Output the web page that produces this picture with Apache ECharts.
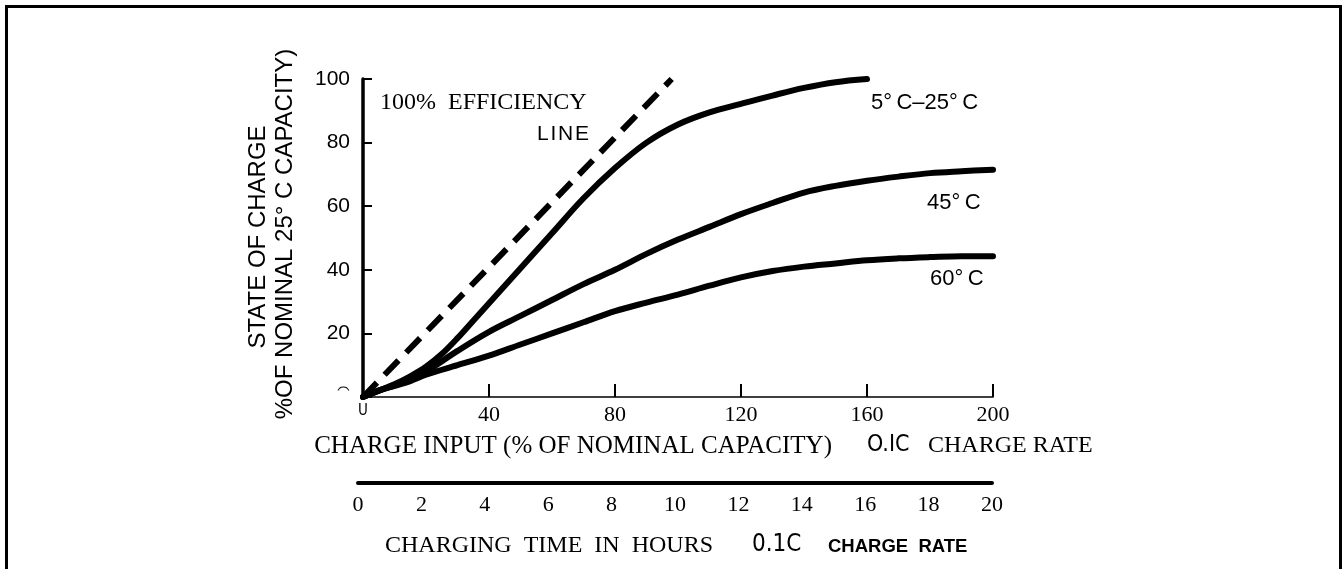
<!DOCTYPE html>
<html><head><meta charset="utf-8">
<script src="https://cdn.jsdelivr.net/npm/echarts@6/dist/echarts.min.js"></script>
<style>html,body{margin:0;padding:0;background:#fff}#c{width:1344px;height:569px}</style>
</head><body><div id="c"></div>
<script>
// ---- data ----
const inputTicks = [0, 40, 80, 120, 160, 200];
const inputTickLabels = ['U', '40', '80', '120', '160', '200'];
const socTicks = [0, 20, 40, 60, 80, 100];
const socTickLabels = ['\u2040', '20', '40', '60', '80', '100'];
const hourTicks = [0, 2, 4, 6, 8, 10, 12, 14, 16, 18, 20];
const hourTickLabels = ['0', '2', '4', '6', '8', '10', '12', '14', '16', '18', '20'];

const efficiencyLine = [[0, 0], [98, 100]];
const curve5to25 = [[0,0],[5,2],[10,4],[15,6.5],[20,9.5],[25,13.5],[30,18.5],[35,24],[40,29.5],[50,40.5],[60,51.5],[70,62.5],[80,72],[90,80],[100,85.7],[110,89.5],[120,92.2],[130,94.8],[140,97.2],[150,99],[160,100]];
const curve45 = [[0,0],[5,2],[10,3.6],[15,5.5],[20,8],[30,14.5],[40,20.5],[50,25.5],[60,30.5],[70,35.5],[80,40],[90,45],[100,49.5],[110,53.5],[120,57.5],[130,61],[140,64.3],[150,66.4],[160,68],[170,69.3],[180,70.4],[190,71],[200,71.5]];
const curve60 = [[0,0],[5,2],[10,3.5],[15,5],[20,7],[30,10],[40,13],[50,16.5],[60,20],[70,23.5],[80,27],[90,29.7],[100,32.2],[110,35],[120,37.6],[130,39.6],[140,41],[150,42],[160,43],[170,43.6],[180,44],[190,44.3],[200,44.3]];

const serif = "'Liberation Serif','Times New Roman',serif";
const sans = "'Liberation Sans',Arial,sans-serif";
const narrow = "'Liberation Sans Narrow','DejaVu Sans Condensed',sans-serif";

const chart = echarts.init(document.getElementById('c'), null, {renderer: 'canvas'});

function txt(text, x, y, opt) {
  return Object.assign({
    type: 'text', x: x, y: y, silent: true,
    style: Object.assign({text: text, fill: '#000', align: 'left', verticalAlign: 'middle', fontFamily: sans, fontSize: 21}, opt.style || {})
  }, opt.el || {});
}

const lineBase = {type: 'line', showSymbol: false, symbol: 'none', smooth: 0.35, silent: true, xAxisIndex: 0, yAxisIndex: 0};

chart.setOption({
  animation: false,
  backgroundColor: '#fff',
  grid: [
    {left: 363, top: 79, width: 630, height: 318},
    {left: 358, top: 482, width: 634, height: 1}
  ],
  xAxis: [
    {
      type: 'value', gridIndex: 0, min: 0, max: 200, interval: 40,
      axisLine: {show: true, lineStyle: {color: '#000', width: 1.6}},
      axisTick: {show: true, inside: true, length: 13, lineStyle: {color: '#000', width: 2}},
      splitLine: {show: false},
      axisLabel: {
        margin: 7, color: '#000', fontFamily: serif, fontSize: 22,
        formatter: v => { const i = inputTicks.indexOf(v); return i === 0 ? '{z|' + inputTickLabels[i] + '}' : (i >= 0 ? inputTickLabels[i] : ''); },
        rich: {z: {fontFamily: narrow, fontSize: 15, color: '#000'}}
      }
    },
    {
      type: 'value', gridIndex: 1, min: 0, max: 20, interval: 2, position: 'bottom',
      axisLine: {show: true, onZero: false, lineStyle: {color: '#000', width: 4}},
      axisTick: {show: false},
      splitLine: {show: false},
      axisLabel: {
        margin: 11, color: '#000', fontFamily: serif, fontSize: 22,
        formatter: v => { const i = hourTicks.indexOf(v); return i >= 0 ? hourTickLabels[i] : ''; }
      }
    }
  ],
  yAxis: [
    {
      type: 'value', gridIndex: 0, min: 0, max: 100, interval: 20,
      axisLine: {show: true, lineStyle: {color: '#000', width: 3.5}},
      axisTick: {show: true, inside: true, length: 9, lineStyle: {color: '#000', width: 2}},
      splitLine: {show: false},
      axisLabel: {
        margin: 13, color: '#000', fontFamily: sans, fontSize: 21,
        formatter: v => { const i = socTicks.indexOf(v); return i >= 0 ? socTickLabels[i] : ''; }
      }
    },
    {type: 'value', gridIndex: 1, show: false, min: 0, max: 1}
  ],
  series: [
    Object.assign({}, lineBase, {name: '100% efficiency', data: efficiencyLine, smooth: false,
      lineStyle: {color: '#000', width: 6, type: [20, 11], cap: 'butt'}}),
    Object.assign({}, lineBase, {name: '5-25C', data: curve5to25, lineStyle: {color: '#000', width: 6, cap: 'round'}}),
    Object.assign({}, lineBase, {name: '45C', data: curve45, lineStyle: {color: '#000', width: 6, cap: 'round'}}),
    Object.assign({}, lineBase, {name: '60C', data: curve60, lineStyle: {color: '#000', width: 6, cap: 'round'}})
  ],
  graphic: [
    {type: 'rect', silent: true, shape: {x: 6.5, y: 6.5, width: 1334, height: 620},
      style: {fill: 'none', stroke: '#000', lineWidth: 3}},
    // y axis title (two rotated lines)
    txt('STATE OF CHARGE', 258, 237, {el: {rotation: Math.PI / 2}, style: {align: 'center', fontSize: 24}}),
    txt('%OF NOMINAL 25\u00B0 C CAPACITY)', 285, 234, {el: {rotation: Math.PI / 2}, style: {align: 'center', fontSize: 24}}),
    // in-plot annotations
    txt('100%  EFFICIENCY', 380, 103, {style: {fontFamily: serif, fontSize: 24}}),
    txt('L\u200AI\u200AN\u200AE', 589, 134, {style: {align: 'right', fontSize: 21}}),
    txt('5\u00B0\u2009C\u201325\u00B0\u2009C', 871, 103, {style: {fontSize: 22}}),
    txt('45\u00B0\u2009C', 927, 203, {style: {fontSize: 22}}),
    txt('60\u00B0\u2009C', 930, 279, {style: {fontSize: 22}}),
    // top x axis title
    txt('CHARGE INPUT (% OF NOMINAL CAPACITY)', 832, 446, {style: {align: 'right', fontFamily: serif, fontSize: 25}}),
    txt('O.IC', 867, 445, {style: {fontFamily: narrow, fontSize: 23}}),
    txt('CHARGE RATE', 928, 446, {style: {fontFamily: serif, fontSize: 24}}),
    // bottom x axis title
    txt('CHARGING  TIME  IN  HOURS', 385, 546, {style: {fontFamily: serif, fontSize: 24}}),
    txt('0.1C', 752, 545, {style: {fontFamily: narrow, fontSize: 24}}),
    txt('CHARGE  RATE', 828, 547, {style: {fontFamily: sans, fontWeight: 'bold', fontSize: 18.5}})
  ]
});
</script>
</body></html>
